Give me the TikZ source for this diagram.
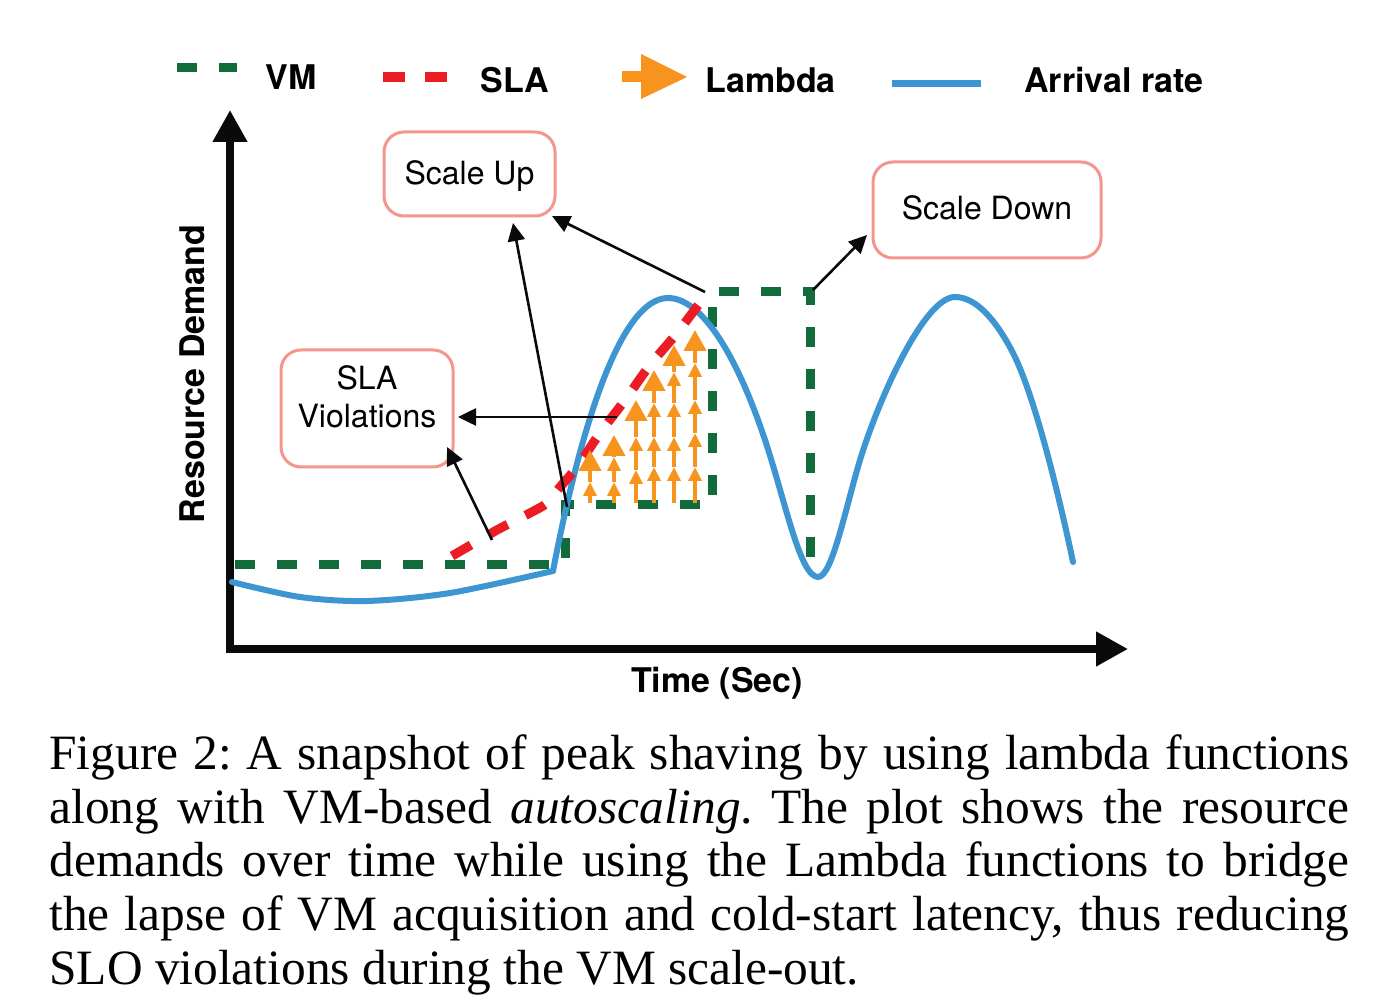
\documentclass[tikz,border=0pt]{standalone}
\usepackage{fontspec}
\setmainfont{Liberation Serif}
\setsansfont{TeX Gyre Heros}
\usetikzlibrary{arrows.meta}
\definecolor{vmgreen}{HTML}{116B3A}
\definecolor{slared}{HTML}{EC1C24}
\definecolor{lamorange}{HTML}{F7941D}
\definecolor{arrblue}{HTML}{3D95D2}
\definecolor{boxpink}{HTML}{F4968D}
\definecolor{inkblack}{HTML}{0A0A0A}
\begin{document}
\begin{tikzpicture}[x=0.5pt,y=-0.5pt,
  axisline/.style={inkblack, line width=3.75pt, {Triangle[length=16pt,width=16.5pt]}-{Triangle[length=16pt,width=16.5pt]}},
  vmline/.style={vmgreen, line width=4.5pt, dash pattern=on 10pt off 11pt},
  slaline/.style={slared, line width=4.6pt, dash pattern=on 11pt off 10pt},
  rateline/.style={arrblue, line width=3pt, line join=round, line cap=round},
  lamseg/.style={lamorange, line width=2.2pt, -{Triangle[length=7pt,width=6.5pt]}},
  lamtop/.style={lamorange, line width=2.2pt, -{Triangle[length=10.5pt,width=11pt]}},
  callout/.style={inkblack, line width=1.3pt, -{Triangle[length=9pt,width=8.5pt]}},
  notebox/.style={draw=boxpink, line width=1.5pt, rounded corners=10pt, inner sep=0pt},
  boxtext/.style={font=\sffamily\fontsize{16}{19}\selectfont, inner sep=0pt},
  axislabel/.style={font=\sffamily\bfseries\fontsize{17}{20}\selectfont, inner sep=0pt},
  legendtext/.style={font=\sffamily\bfseries\fontsize{17}{20}\selectfont, inner sep=0pt, anchor=base west},
  captext/.style={font=\rmfamily\fontsize{24.7}{26.9}\selectfont\frenchspacing, inner sep=0pt, anchor=base west}
]
\fill[white] (0,0) rectangle (1384,1004);
\useasboundingbox (0,0) rectangle (1384,1004);

% legend
\draw[vmline] (177,68) -- (237,68);
\node[legendtext] (lvm) at (265,90) {VM};
\draw[slaline] (383,77) -- (447,77);
\node[legendtext] (lsla) at (480,93) {SLA};
\fill[lamorange] (622,71.5) rectangle (645,82.5);
\fill[lamorange] (641,54) -- (687,77) -- (641,99) -- cycle;
\node[legendtext] (llam) at (705,93) {Lambda};
\draw[arrblue, line width=3.5pt] (892,84) -- (981,84);
\node[legendtext] (larr) at (1024,93) {Arrival rate};

% axes
\coordinate (origin) at (230,649);
\coordinate (ytip) at (230,110);
\coordinate (xtip) at (1128,649);
\draw[axisline] (ytip) -- (origin) -- (xtip);
\node[axislabel, rotate=90] (ylab) at (192,374) {Resource Demand};
\node[axislabel] (xlab) at (717,683) {Time (Sec)};

% VM provisioning
\draw[vmline] (235,564) -- (565,564) -- (565,505) -- (712,505) -- (712,292) -- (810,292) -- (810,560);

% arrival rate
\draw[rateline] plot[smooth] coordinates {(232,582) (300,597) (367,601) (450,593) (553,571)};
\draw[rateline] (553,571) .. controls (580,430) and (620,298) .. (668,298)
  .. controls (700,298) and (735,350) .. (765,440)
  .. controls (785,500) and (800,577) .. (818,577)
  .. controls (832,577) and (845,510) .. (860,460)
  .. controls (880,395) and (925,297) .. (955,297)
  .. controls (975,297) and (995,318) .. (1013,353)
  .. controls (1035,396) and (1060,500) .. (1073,562);

% SLA
\draw[slaline] plot[smooth] coordinates {(452,556) (497,530) (530,513) (547,503) (560,487) (577,467) (600,433) (625,400) (650,365) (677,333) (708,292)};

% lambda arrows
\draw[lamseg] (590,503) -- (590,482); \draw[lamtop] (590,482) -- (590,450);
\draw[lamseg] (614,503) -- (614,482); \draw[lamseg] (614,482) -- (614,457); \draw[lamtop] (614,457) -- (614,435);
\draw[lamseg] (636,503) -- (636,470); \draw[lamseg] (636,470) -- (636,437); \draw[lamtop] (636,437) -- (636,400);
\draw[lamseg] (654,503) -- (654,467); \draw[lamseg] (654,467) -- (654,437); \draw[lamseg] (654,437) -- (654,403); \draw[lamtop] (654,403) -- (654,370);
\draw[lamseg] (674,503) -- (674,467); \draw[lamseg] (674,467) -- (674,437); \draw[lamseg] (674,437) -- (674,403); \draw[lamseg] (674,403) -- (674,372); \draw[lamtop] (674,372) -- (674,345);
\draw[lamseg] (695,503) -- (695,467); \draw[lamseg] (695,467) -- (695,433); \draw[lamseg] (695,433) -- (695,400); \draw[lamseg] (695,400) -- (695,363); \draw[lamtop] (695,363) -- (695,330);

% boxes
\node[notebox, minimum width=85.5pt, minimum height=42pt] (up) at (469.5,174) {};
\node[boxtext] (uptxt) at (469.5,176) {Scale Up};
\node[notebox, minimum width=114pt, minimum height=48pt] (down) at (987,210) {};
\node[boxtext] (downtxt) at (987,208) {Scale Down};
\node[notebox, minimum width=86pt, minimum height=58.5pt] (slabox) at (367,408.5) {};
\node[boxtext, align=center] (slatxt) at (367,397) {SLA\\Violations};

% callouts
\coordinate (slaTail) at (492,540); \coordinate (slaTip) at (447,447);
\coordinate (midTail) at (617,417); \coordinate (midTip) at (458,417);
\coordinate (vmStep) at (567,507); \coordinate (upTipA) at (513,223);
\coordinate (slaTop) at (705,292); \coordinate (upTipB) at (552,216);
\coordinate (vmTop) at (813,290); \coordinate (downTip) at (867,235);
\draw[callout] (slaTail) -- (slaTip);
\draw[callout] (midTail) -- (midTip);
\draw[callout] (vmStep) -- (upTipA);
\draw[callout] (slaTop) -- (upTipB);
\draw[callout] (vmTop) -- (downTip);

% caption
\node[captext] (cap1) at (49,769) {\makebox[650pt][s]{Figure 2: A snapshot of peak shaving by using lambda functions}};
\node[captext] (cap2) at (49,823) {\makebox[650pt][s]{along with VM-based \textit{autoscaling}. The plot shows the resource}};
\node[captext] (cap3) at (49,876) {\makebox[650pt][s]{demands over time while using the Lambda functions to bridge}};
\node[captext] (cap4) at (49,930) {\makebox[650pt][s]{the lapse of VM acquisition and cold-start latency, thus reducing}};
\node[captext] (cap5) at (49,984) {SLO violations during the VM scale-out.};
\end{tikzpicture}
\end{document}
